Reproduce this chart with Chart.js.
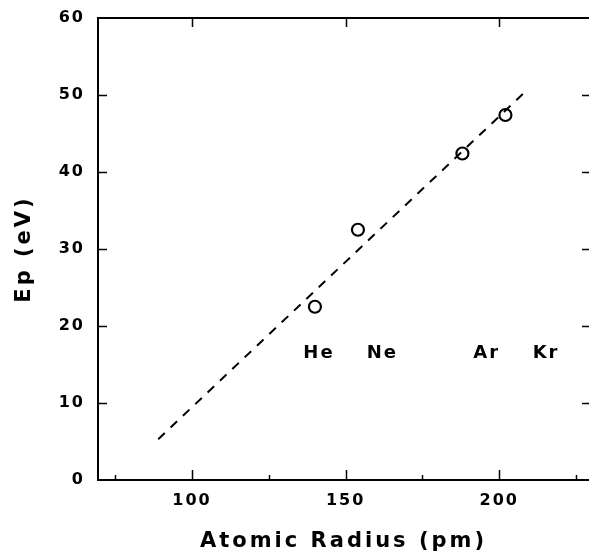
<!DOCTYPE html>
<html>
<head>
<meta charset="utf-8">
<script src="https://cdn.jsdelivr.net/npm/chart.js@4/dist/chart.umd.min.js"></script>
<style>
  html, body { margin: 0; padding: 0; background: #fff; }
  #wrap { width: 589px; height: 554px; }
</style>
</head>
<body>
<div id="wrap"><canvas id="c" width="589" height="554"></canvas></div>
<script>
// ---- data ----
const elements = ['He', 'Ne', 'Ar', 'Kr'];
const atomicRadius = [140, 154, 188, 202];      // pm
const plasmonEnergy = [22.5, 32.5, 42.4, 47.4]; // eV
const fitX = [89, 208.4];
const fitY = [5.3, 50.4];
const labelX = [141, 161.6, 195.6, 214.9];
const labelY = 16.5;
const xTickValues = [75, 100, 125, 150, 175, 200, 225];
const xMajorTicks = [100, 150, 200];
const yTickValues = [0, 10, 20, 30, 40, 50, 60];
const xRange = [69.4, 229.2];
const yRange = [0, 60];

const FONT = "'DejaVu Sans', sans-serif";

const pointData = atomicRadius.map((x, i) => ({ x: x, y: plasmonEnergy[i] }));
const fitData = fitX.map((x, i) => ({ x: x, y: fitY[i] }));

function zeroPadding(scale) {
  scale.paddingTop = 0; scale.paddingBottom = 0;
  scale.paddingLeft = 0; scale.paddingRight = 0;
}

const spacingPlugin = {
  id: 'spacing',
  afterLayout(chart) {
    ['x', 'y'].forEach(id => {
      const sc = chart.scales[id];
      if (sc && !sc._spacedTitle) {
        const orig = sc.drawTitle;
        sc.drawTitle = function () {
          const ctx = this.ctx;
          const prev = ctx.letterSpacing;
          ctx.letterSpacing = '3px';
          orig.apply(this, arguments);
          ctx.letterSpacing = prev;
        };
        sc._spacedTitle = true;
      }
    });
  },
  beforeDraw(chart) {
    const ctx = chart.ctx;
    ctx.save();
    ctx.fillStyle = '#fff';
    ctx.fillRect(0, 0, chart.width, chart.height);
    ctx.restore();
    ctx.letterSpacing = '2px';
  }
};

const ticksPlugin = {
  id: 'innerTicks',
  afterDraw(chart) {
    const ctx = chart.ctx;
    const a = chart.chartArea;
    const xs = chart.scales.x, ys = chart.scales.y;
    ctx.save();
    ctx.strokeStyle = '#000';
    ctx.lineWidth = 1.5;
    ctx.beginPath();
    yTickValues.filter(v => v > yRange[0] && v < yRange[1]).forEach(v => {
      const py = Math.round(ys.getPixelForValue(v)) + 0.5;
      ctx.moveTo(a.left, py); ctx.lineTo(a.left + 9, py);
      ctx.moveTo(a.right, py); ctx.lineTo(a.right - 7, py);
    });
    xTickValues.forEach(v => {
      const px = Math.round(xs.getPixelForValue(v)) + 0.5;
      const major = xMajorTicks.includes(v);
      ctx.moveTo(px, a.bottom); ctx.lineTo(px, a.bottom - (major ? 10 : 5));
      if (major) { ctx.moveTo(px, a.top); ctx.lineTo(px, a.top + 9); }
    });
    ctx.stroke();
    ctx.restore();
  },
  afterDatasetsDraw(chart) {
    const ctx = chart.ctx;
    const xs = chart.scales.x, ys = chart.scales.y;
    ctx.save();
    ctx.letterSpacing = '2px';
    ctx.fillStyle = '#000';
    ctx.font = "bold 18px " + FONT;
    ctx.textAlign = 'center';
    ctx.textBaseline = 'middle';
    elements.forEach((name, i) => {
      ctx.fillText(name, xs.getPixelForValue(labelX[i]) + 1, ys.getPixelForValue(labelY));
    });
    ctx.restore();
  }
};

new Chart(document.getElementById('c'), {
  type: 'scatter',
  data: {
    datasets: [
      {
        label: 'fit',
        data: fitData,
        showLine: true,
        borderColor: '#000',
        borderWidth: 2,
        borderDash: [9, 8],
        pointRadius: 0,
        fill: false
      },
      {
        label: 'Ep',
        data: pointData,
        pointStyle: 'circle',
        pointRadius: 6,
        pointBorderWidth: 2.2,
        pointBorderColor: '#000',
        pointBackgroundColor: 'rgba(255,255,255,0)',
        showLine: false
      }
    ]
  },
  options: {
    responsive: false,
    animation: false,
    layout: { padding: 0, autoPadding: false },
    plugins: { legend: { display: false }, tooltip: { enabled: false } },
    scales: {
      x: {
        type: 'linear',
        position: 'bottom',
        min: xRange[0],
        max: xRange[1],
        afterBuildTicks(scale) { scale.ticks = xTickValues.map(v => ({ value: v })); },
        afterFit(scale) { scale.height = 74; zeroPadding(scale); },
        grid: { display: false, drawTicks: false },
        border: { display: true, color: '#000', width: 2 },
        ticks: {
          color: '#000',
          padding: 11,
          maxRotation: 0,
          autoSkip: false,
          font: { family: FONT, size: 16, weight: 'bold' },
          callback: v => (xMajorTicks.includes(v) ? String(v) : '')
        },
        title: {
          display: true,
          text: 'Atomic Radius (pm)',
          color: '#000',
          padding: { top: 0, bottom: 0 },
          font: { family: FONT, size: 21, weight: 'bold' }
        }
      },
      xTop: {
        type: 'linear',
        position: 'top',
        min: xRange[0],
        max: xRange[1],
        afterFit(scale) { scale.height = 18; zeroPadding(scale); },
        grid: { display: false, drawTicks: false },
        border: { display: true, color: '#000', width: 2 },
        ticks: { display: false }
      },
      y: {
        type: 'linear',
        position: 'left',
        min: yRange[0],
        max: yRange[1],
        afterBuildTicks(scale) { scale.ticks = yTickValues.map(v => ({ value: v })); },
        afterFit(scale) { scale.width = 98; zeroPadding(scale); },
        grid: { display: false, drawTicks: false },
        border: { display: true, color: '#000', width: 2 },
        ticks: {
          color: '#000',
          padding: 13,
          font: { family: FONT, size: 16, weight: 'bold' }
        },
        title: {
          display: true,
          text: 'Ep (eV)',
          color: '#000',
          padding: { top: 11.5, bottom: 0 },
          font: { family: FONT, size: 21, weight: 'bold' }
        }
      }
    }
  },
  plugins: [spacingPlugin, ticksPlugin]
});
</script>
</body>
</html>
